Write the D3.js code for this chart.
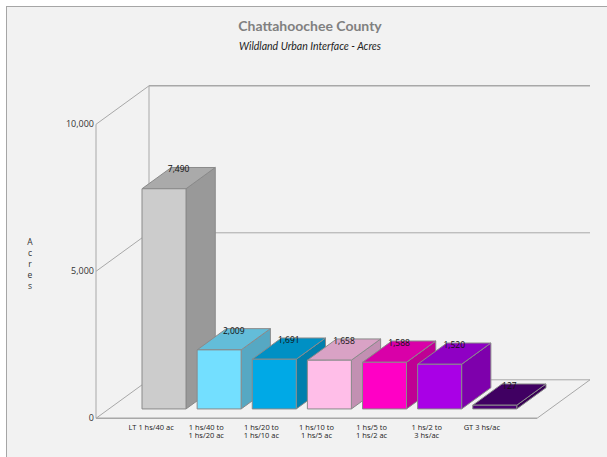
<!DOCTYPE html>
<html><head><meta charset="utf-8">
<script src="https://cdn.jsdelivr.net/npm/d3@7"></script>
<style>body{margin:0;background:#fff}svg{display:block}</style>
</head><body>
<svg id="c" width="607" height="457"></svg>
<script>
const categories = [
  ["LT 1 hs/40 ac"],
  ["1 hs/40 to", "1 hs/20 ac"],
  ["1 hs/20 to", "1 hs/10 ac"],
  ["1 hs/10 to", "1 hs/5 ac"],
  ["1 hs/5 to", "1 hs/2 ac"],
  ["1 hs/2 to", "3 hs/ac"],
  ["GT 3 hs/ac"]
];
const values = [7490, 2009, 1691, 1658, 1588, 1520, 127];
const yTicks = [0, 5000, 10000];
const frontColors = ["#cccccc", "#73dfff", "#00a9e6", "#ffbee8", "#ff00c5", "#a900e6", "#4c0073"];
const topColors   = ["#aaaaaa", "#63bdd9", "#0090c4", "#d9a2c5", "#d900a8", "#8f00c4", "#400062"];
const sideColors  = ["#999999", "#56a8c3", "#007fad", "#c290b2", "#bf0094", "#7e00ac", "#380055"];

const svg = d3.select("#c");
const font = "'Open Sans', 'Noto Sans', sans-serif";

// background panel
svg.append("rect").attr("x", 6.5).attr("y", 6.5).attr("width", 620).attr("height", 470)
  .attr("fill", "#f2f2f2").attr("stroke", "#a6a6a6").attr("stroke-width", 1);

// titles
svg.append("text").attr("x", 310).attr("y", 31).attr("text-anchor", "middle")
  .attr("font-family", "Lato, 'Open Sans', sans-serif").attr("font-weight", "bold")
  .attr("font-size", 14).attr("fill", "#808080").text("Chattahoochee County");
svg.append("text").attr("x", 310).attr("y", 50).attr("text-anchor", "middle")
  .attr("font-family", "Lato, 'Open Sans', sans-serif").attr("font-style", "italic")
  .attr("font-size", 10.5).attr("fill", "#222").text("Wildland Urban Interface - Acres");

// scales
const x0 = 96, x1 = 537;
const x = d3.scalePoint().domain(d3.range(categories.length)).range([x0, x1]).padding(1);
const y = d3.scaleLinear().domain([0, 10000]).range([418.3, 124.3]);
const DX = 53, DY = -38.5;               // full-depth oblique offset
const off = z => [z * DX, z * DY];
const zF = 0.243, zB = 0.795;            // bar depth extent
const barW = 44;

const wall = "#a8a8a8";
const g = svg.append("g");
const line = (xa, ya, xb, yb, w) => g.append("line")
  .attr("x1", xa).attr("y1", ya).attr("x2", xb).attr("y2", yb)
  .attr("stroke", wall).attr("stroke-width", w || 1);

// back wall gridlines
const bx = x0 + DX, rightBack = x1 + DX;
yTicks.forEach(t => line(bx, y(t) + DY, rightBack, y(t) + DY, t === 10000 ? 1.5 : 1));
line(bx, y(0) + DY, bx, y(10000) + DY);
// left wall
yTicks.forEach(t => line(x0, y(t), bx, y(t) + DY));
line(x0, y(0), x0, y(10000));
// floor
line(x0, y(0), x1, y(0), 1.6);
line(x1, y(0), rightBack, y(0) + DY);

// y tick labels
svg.selectAll(".yt").data(yTicks).enter().append("text")
  .attr("x", 94).attr("y", d => y(d)).attr("dy", "0.35em").attr("text-anchor", "end")
  .attr("font-family", font).attr("font-size", 9).attr("fill", "#333")
  .text(d => d3.format(",")(d));

// y axis title stacked
const yt = "Acres".split("");
svg.selectAll(".ya").data(yt).enter().append("text")
  .attr("x", 30).attr("y", (d, i) => 242 + i * 11).attr("dy", "0.35em").attr("text-anchor", "middle")
  .attr("font-family", font).attr("font-size", 8.5).attr("fill", "#333").text(d => d);

// bars
const stroke = "#8a8a8a";
values.forEach((v, i) => {
  const cx = x(i);
  const [fx, fy] = off(zF), [bkx, bky] = off(zB);
  const l = cx - barW / 2, r = cx + barW / 2;
  const yb = y(0), ytp = y(v);
  const P = pts => pts.map(p => p.join(",")).join(" ");
  const bg = svg.append("g").attr("stroke", stroke).attr("stroke-width", 1).attr("stroke-linejoin", "round");
  bg.append("polygon").attr("fill", sideColors[i]).attr("points", P([
    [r + fx, yb + fy], [r + bkx, yb + bky], [r + bkx, ytp + bky], [r + fx, ytp + fy]]));
  bg.append("polygon").attr("fill", topColors[i]).attr("points", P([
    [l + fx, ytp + fy], [r + fx, ytp + fy], [r + bkx, ytp + bky], [l + bkx, ytp + bky]]));
  bg.append("polygon").attr("fill", frontColors[i]).attr("points", P([
    [l + fx, yb + fy], [r + fx, yb + fy], [r + fx, ytp + fy], [l + fx, ytp + fy]]));
  svg.append("text").attr("x", cx + (fx + bkx) / 2).attr("y", ytp + bky + 2).attr("dy", "0.35em")
    .attr("text-anchor", "middle").attr("font-family", font).attr("font-size", 8.5)
    .attr("fill", "#111").text(d3.format(",")(v));
});

// category labels
categories.forEach((lines, i) => {
  const t = svg.append("text").attr("text-anchor", "middle")
    .attr("font-family", font).attr("font-size", 7.5).attr("fill", "#222");
  lines.forEach((s, k) => t.append("tspan").attr("x", x(i)).attr("y", 427 + k * 8.5)
    .attr("dy", "0.35em").text(s));
});
</script>
</body></html>
